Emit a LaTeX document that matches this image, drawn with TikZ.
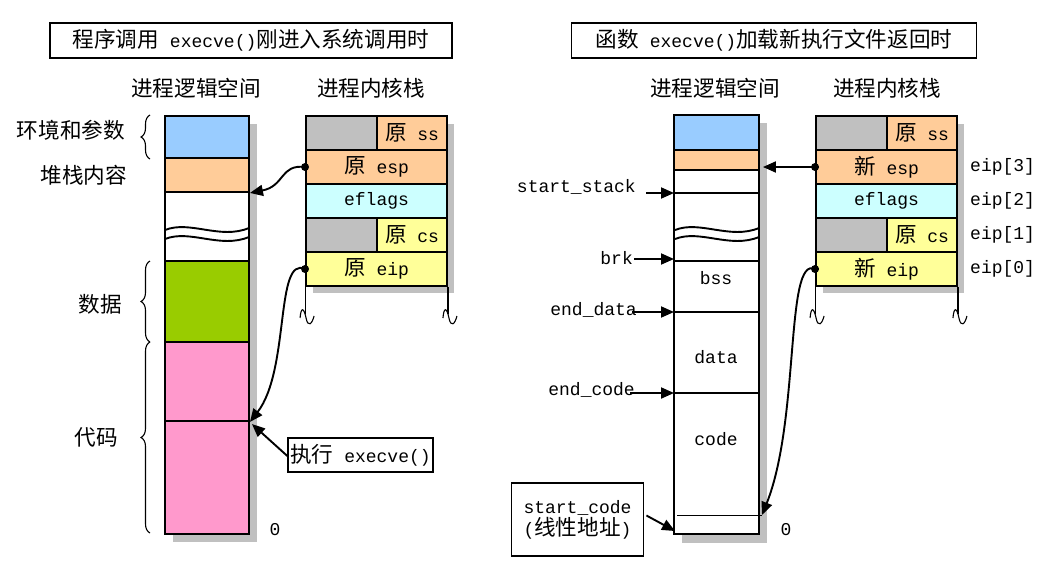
\documentclass[tikz,border=0pt]{standalone}
\usepackage{fontspec}
\usetikzlibrary{arrows.meta,decorations.pathreplacing}
\setmonofont{Liberation Mono}
\newfontfamily\cjkfont[Scale=1.2]{Noto Sans CJK SC}
\newcommand{\zh}[1]{{\cjkfont #1}}
\definecolor{envblue}{HTML}{99CCFF}
\definecolor{stkorange}{HTML}{FFCC99}
\definecolor{datagreen}{HTML}{99CC00}
\definecolor{codepink}{HTML}{FF99CC}
\definecolor{flagcyan}{HTML}{CCFFFF}
\definecolor{regyellow}{HTML}{FFFF99}
\definecolor{padgray}{HTML}{C0C0C0}
\tikzset{
  seg/.style={draw, line width=1.9pt, minimum width=84, inner sep=0},
  cell/.style={draw, line width=1.9pt, minimum height=34, inner sep=0},
  arr/.style={line width=1.9pt, -{Triangle[length=13pt,width=11pt]}},
  brc/.style={decorate, decoration={brace, amplitude=9pt}, line width=1.1pt},
  tag/.style={inner sep=1},
}
\newcommand{\squig}[1]{\draw[line width=1.1pt] (#1) ++(-5,5) .. controls +(1,-12) and +(-2,-10) .. ++(6,0) .. controls +(2,10) and +(-2,8) .. ++(8,-2);}

\begin{document}
\begin{tikzpicture}[x=1pt,y=-1pt,font=\fontsize{18}{22}\selectfont\ttfamily]
\useasboundingbox (0,0) rectangle (1048,565);

% ---- left: on entering the system call
\node[draw, line width=1.9pt, minimum width=402, minimum height=35] (ltitle) at (251,40.5)
  {\zh{程序调用} execve()\zh{刚进入系统调用时}};
\node (lhead1) at (196,88) {\zh{进程逻辑空间}};
\node (lhead2) at (371,88) {\zh{进程内核栈}};

\fill[padgray] (173,124) rectangle (257,542);
\node[seg, fill=envblue, minimum height=42] (lenv) at (207,137) {};
\node[seg, fill=stkorange, minimum height=34] (lstk) at (207,175) {};
\node[seg, fill=white, minimum height=69] (lfree) at (207,226.5) {};
\node[seg, fill=datagreen, minimum height=81] (ldata) at (207,301.5) {};
\node[seg, fill=codepink, minimum height=79] (lcode1) at (207,381.5) {};
\node[seg, fill=codepink, minimum height=113] (lcode2) at (207,477.5) {};
\draw[line width=1.9pt] (165,230) .. controls (190,220) and (220,240) .. (249,228);
\draw[line width=1.9pt] (165,239) .. controls (190,229) and (220,249) .. (249,237);
\node[tag] (lzero) at (275,530) {0};

\draw[brc] (150,159) -- (150,115);
\draw[brc] (150,342) -- (150,261);
\draw[brc] (150,533) -- (150,342);
\node[tag, anchor=east] (lenvtxt) at (126,130) {\zh{环境和参数}};
\node[tag, anchor=east] (lstktxt) at (128,175) {\zh{堆栈内容}};
\node[tag] (ldatatxt) at (100,304) {\zh{数据}};
\node[tag] (lcodetxt) at (96,437) {\zh{代码}};

\fill[padgray] (313,124) rectangle (454,293);
\node[cell, fill=padgray, minimum width=71] (lss0) at (341.5,133) {};
\node[cell, fill=stkorange, minimum width=70] (lss) at (412,133) {\zh{原} ss};
\node[cell, fill=stkorange, minimum width=141] (lesp) at (376.5,167) {\zh{原} esp};
\node[cell, fill=flagcyan, minimum width=141] (lefl) at (376.5,201) {eflags};
\node[cell, fill=padgray, minimum width=71] (lcs0) at (341.5,235) {};
\node[cell, fill=regyellow, minimum width=70] (lcs) at (412,235) {\zh{原} cs};
\node[cell, fill=regyellow, minimum width=141] (leip) at (376.5,269) {\zh{原} eip};
\draw[line width=1.1pt] (leip.south west) -- ++(0,27);
\draw[line width=1.1pt] (leip.south east) -- ++(0,27);
\squig{leip.south west |- 0,313}
\squig{leip.south east |- 0,313}

\fill (lesp.west) circle (4);
\draw[arr] (lesp.west) .. controls (280,164) and (285,186) .. (lstk.south east);
\fill (leip.west) circle (4);
\draw[arr] (leip.west) .. controls (275,255) and (290,370) .. (lcode1.south east);

\node[draw, line width=1.9pt, inner sep=2, minimum height=34] (lcall) at (360.5,455) {\zh{执行} execve()};
\draw[arr] (lcall.west) ++(0,1) -- ([xshift=2,yshift=-4]lcode2.north east);

% ---- right: on returning with the new program
\node[draw, line width=1.9pt, minimum width=405, minimum height=35] (rtitle) at (774,40.5)
  {\zh{函数} execve()\zh{加载新执行文件返回时}};
\node (rhead1) at (715,88) {\zh{进程逻辑空间}};
\node (rhead2) at (887,88) {\zh{进程内核栈}};

\fill[padgray] (682,123) rectangle (767,543);
\node[seg, fill=envblue, minimum width=85, minimum height=35] (renv) at (716.5,132.5) {};
\node[seg, fill=stkorange, minimum width=85, minimum height=20] (rstk) at (716.5,160) {};
\node[seg, fill=white, minimum width=85, minimum height=91] (rfree) at (716.5,215.5) {};
\node[seg, fill=white, minimum width=85, minimum height=51] (rbss) at (716.5,286.5) {};
\node[seg, fill=white, minimum width=85, minimum height=81] (rdata) at (716.5,352.5) {};
\node[seg, fill=white, minimum width=85, minimum height=141] (rcode) at (716.5,463.5) {};
\draw[line width=1.9pt] (674,193) -- (759,193);
\draw[line width=1.9pt] (675,230) .. controls (700,220) and (730,240) .. (759,228);
\draw[line width=1.9pt] (675,239) .. controls (700,229) and (730,249) .. (759,237);
\draw[line width=1pt] (677,515) -- (762,515);
\node[tag] (rbsstxt) at (716,278) {bss};
\node[tag] (rdatatxt) at (716,357) {data};
\node[tag] (rcodetxt) at (716,439) {code};
\node[tag] (rzero) at (786,530) {0};

\coordinate (sstack) at (674,193);
\coordinate (brk) at (674,259);
\coordinate (edata) at (674,312);
\coordinate (ecode) at (674,393);
\coordinate (scode) at (675,531);
\coordinate (neweip) at (762,515);
\node[tag, anchor=east] (sstacktxt) at (637,187) {start\_stack};
\node[tag, anchor=east] (brktxt) at (634,258) {brk};
\node[tag, anchor=east] (edatatxt) at (638,310) {end\_data};
\node[tag, anchor=east] (ecodetxt) at (636,390) {end\_code};
\draw[arr] (sstacktxt.east |- sstack) ++(9,0) -- (sstack);
\draw[arr] (brktxt.east |- brk) -- (brk);
\draw[arr] ([xshift=-6]edatatxt.east |- edata) -- (edata);
\draw[arr] ([xshift=-6]ecodetxt.east |- ecode) -- (ecode);
\node[draw, line width=1.9pt, align=center, inner sep=3, minimum width=132, minimum height=73] (scodebox) at (577.5,519.5)
  {start\_code\\(\zh{线性地址})};
\draw[arr] (scodebox.east) ++(2,-4) -- (scode);

\fill[padgray] (823,124) rectangle (964,293);
\node[cell, fill=padgray, minimum width=71] (rss0) at (851.5,133) {};
\node[cell, fill=stkorange, minimum width=70] (rss) at (922,133) {\zh{原} ss};
\node[cell, fill=stkorange, minimum width=141] (resp) at (886.5,167) {\zh{新} esp};
\node[cell, fill=flagcyan, minimum width=141] (refl) at (886.5,201) {eflags};
\node[cell, fill=padgray, minimum width=71] (rcs0) at (851.5,235) {};
\node[cell, fill=regyellow, minimum width=70] (rcs) at (922,235) {\zh{原} cs};
\node[cell, fill=regyellow, minimum width=141] (reip) at (886.5,269) {\zh{新} eip};
\node[tag, anchor=west] (eip3) at (969,167) {eip[3]};
\node[tag, anchor=west] (eip2) at (969,201) {eip[2]};
\node[tag, anchor=west] (eip1) at (969,235) {eip[1]};
\node[tag, anchor=west] (eip0) at (969,269) {eip[0]};
\draw[line width=1.1pt] (reip.south west) -- ++(0,27);
\draw[line width=1.1pt] (reip.south east) -- ++(0,27);
\squig{reip.south west |- 0,313}
\squig{reip.south east |- 0,313}

\fill (resp.west) circle (4);
\draw[arr] (resp.west) -- ([xshift=3]resp.west -| rstk.east);
\fill (reip.west) circle (4);
\draw[arr] (reip.west) .. controls (785,255) and (800,420) .. (neweip);
\end{tikzpicture}
\end{document}
